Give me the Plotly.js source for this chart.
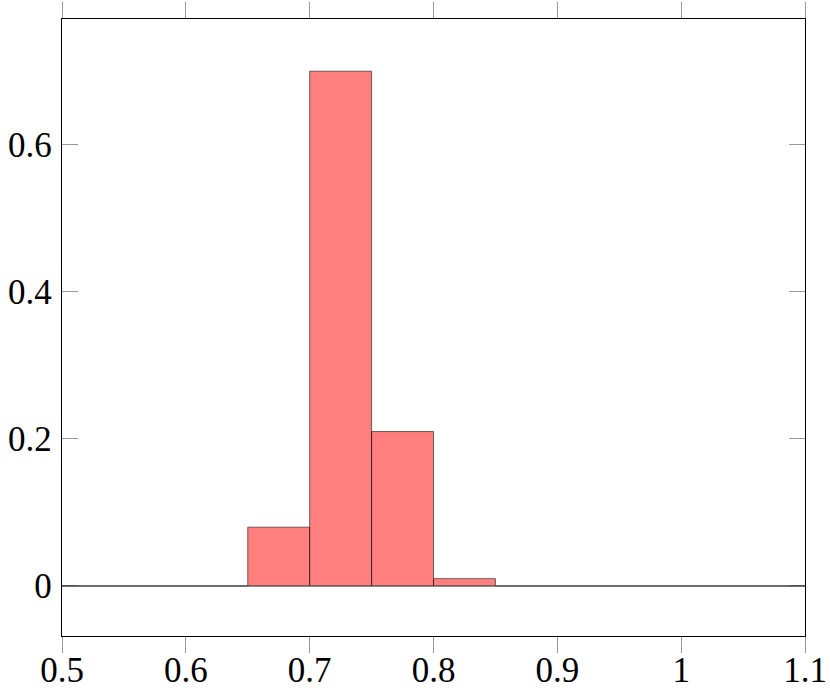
<!DOCTYPE html>
<html>
<head>
<meta charset="utf-8">
<script src="https://cdn.plot.ly/plotly-3.0.1.min.js"></script>
<style>html,body{margin:0;padding:0;background:#fff;}#chart{width:830px;height:693px;}</style>
</head>
<body>
<div id="chart"></div>
<script>
// Histogram bins (left edges), bin width, and densities
const binStarts = [0.5, 0.55, 0.6, 0.65, 0.7, 0.75, 0.8, 0.85, 0.9, 0.95, 1.0, 1.05];
const binWidth = 0.05;
const binValues = [0, 0, 0, 0.08, 0.70, 0.21, 0.01, 0, 0, 0, 0, 0];
const xTicks = [0.5, 0.6, 0.7, 0.8, 0.9, 1.0, 1.1];
const xTickLabels = ['0.5', '0.6', '0.7', '0.8', '0.9', '1', '1.1'];
const yTicks = [0, 0.2, 0.4, 0.6];
const yTickLabels = ['0', '0.2', '0.4', '0.6'];

const centers = binStarts.map(s => s + binWidth / 2);
const lastEdge = binStarts[binStarts.length - 1] + binWidth;

// zero-height bins are drawn as a flat line along the baseline
const baseline = {
  type: 'scatter', mode: 'lines',
  x: [binStarts[0], lastEdge], y: [0, 0],
  line: {color: '#555', width: 1.2},
  hoverinfo: 'skip', cliponaxis: false
};

const trace = {
  type: 'bar',
  x: centers,
  y: binValues,
  width: binStarts.map(() => binWidth),
  marker: {
    color: 'rgba(255,0,0,0.5)',
    line: {color: 'rgba(0,0,0,0.55)', width: 1}
  },
  hoverinfo: 'skip'
};

const font = {family: 'Liberation Serif', size: 35, color: '#000'};

const layout = {
  width: 830, height: 693,
  margin: {l: 62, r: 25, t: 19, b: 57},
  paper_bgcolor: '#fff', plot_bgcolor: '#fff',
  showlegend: false,
  font: font,
  xaxis: {
    range: [0.5, 1.1],
    tickvals: xTicks, ticktext: xTickLabels,
    ticks: 'outside', ticklen: 16, tickwidth: 1, tickcolor: '#999',
    mirror: 'allticks', showline: true, linecolor: '#000', linewidth: 1.3,
    showgrid: false, zeroline: false,
    ticklabelstandoff: -13,
    layer: 'below traces',
    tickfont: font
  },
  yaxis: {
    range: [-0.068, 0.771],
    tickvals: yTicks, ticktext: yTickLabels,
    ticks: 'inside', ticklen: 16, tickwidth: 1, tickcolor: '#999',
    mirror: 'allticks', showline: true, linecolor: '#000', linewidth: 1.3,
    showgrid: false, zeroline: false,
    ticklabelstandoff: 2,
    layer: 'below traces',
    tickfont: font
  }
};

Plotly.newPlot('chart', [baseline, trace], layout, {displayModeBar: false, staticPlot: true});
</script>
</body>
</html>
